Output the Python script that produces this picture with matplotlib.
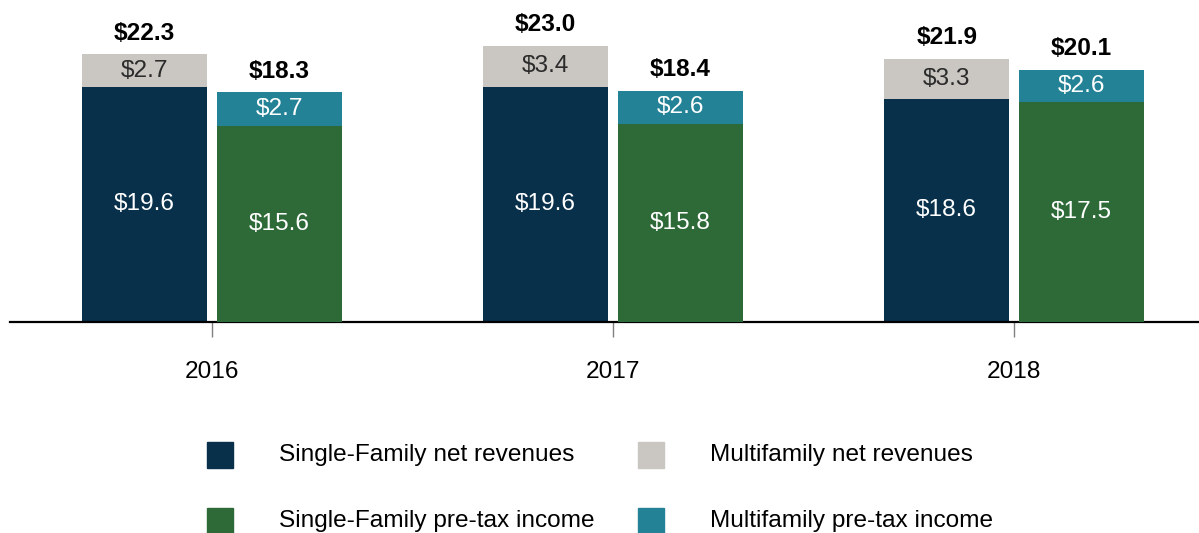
import numpy as np
import matplotlib.pyplot as plt
from matplotlib.patches import Rectangle

years = ['2016', '2017', '2018']
sf_revenues = [19.6, 19.6, 18.6]
mf_revenues = [2.7, 3.4, 3.3]
sf_income = [15.6, 15.8, 17.5]
mf_income = [2.7, 2.6, 2.6]

c_sf_rev = '#08304b'
c_mf_rev = '#cac7c2'
c_sf_inc = '#2e6a38'
c_mf_inc = '#248296'

plt.rcParams['font.family'] = ['Liberation Sans', 'DejaVu Sans']
fs = 17.6

W, H = 1199, 533
fig = plt.figure(figsize=(W / 100, H / 100), dpi=100)
ax = fig.add_axes([10 / W, 1 - 322 / H, 1189 / W, 322 / H])
# income bars sit on their own (secondary) scale in the original
ax2 = ax.twinx()

x = np.arange(len(years))
w = 0.312
off = 0.168

b1 = ax.bar(x - off, sf_revenues, w, color=c_sf_rev)
b2 = ax.bar(x - off, mf_revenues, w, bottom=sf_revenues, color=c_mf_rev)
b3 = ax2.bar(x + off, sf_income, w, color=c_sf_inc)
b4 = ax2.bar(x + off, mf_income, w, bottom=sf_income, color=c_mf_inc)

ax.bar_label(b1, labels=[f'${v:.1f}' for v in sf_revenues], label_type='center', color='white', fontsize=fs)
ax.bar_label(b2, labels=[f'${v:.1f}' for v in mf_revenues], label_type='center', color='#2b2b2b', fontsize=fs)
ax2.bar_label(b3, labels=[f'${v:.1f}' for v in sf_income], label_type='center', color='white', fontsize=fs)
ax2.bar_label(b4, labels=[f'${v:.1f}' for v in mf_income], label_type='center', color='white', fontsize=fs)

rev_tot = np.add(sf_revenues, mf_revenues)
inc_tot = np.add(sf_income, mf_income)
ax.bar_label(b2, labels=[f'${v:.1f}' for v in rev_tot], padding=7, fontsize=fs, fontweight='bold')
ax2.bar_label(b4, labels=[f'${v:.1f}' for v in inc_tot], padding=7, fontsize=fs, fontweight='bold')

ax.set_xlim(-0.504, 2.461)
ax.set_ylim(0, 322 / 12.0)
ax2.set_ylim(0, 322 / 12.55)
ax.set_xticks(x)
ax.set_xticklabels(years, fontsize=fs)
ax.set_yticks([])
ax2.set_yticks([])
ax.tick_params(axis='x', length=11, width=1, color='#808080', pad=17)
for a in (ax, ax2):
    for s in ['top', 'right', 'left']:
        a.spines[s].set_visible(False)
ax2.spines['bottom'].set_visible(False)
ax.spines['bottom'].set_linewidth(1.6)
ax.spines['bottom'].set_color('black')
ax.spines['bottom'].set_zorder(5)

# legend, laid out as in the original
entries = [
    ('Single-Family net revenues', c_sf_rev, 207, 455),
    ('Multifamily net revenues', c_mf_rev, 638, 455),
    ('Single-Family pre-tax income', c_sf_inc, 207, 521),
    ('Multifamily pre-tax income', c_mf_inc, 638, 521),
]
for label, col, px, py in entries:
    fig.add_artist(Rectangle((px / W, 1 - (py + 13) / H), 26 / W, 26 / H,
                             transform=fig.transFigure, color=col))
    fig.text((px + 72) / W, 1 - py / H, label, fontsize=fs, va='center', ha='left')

fig.savefig('out.png', dpi=100)
